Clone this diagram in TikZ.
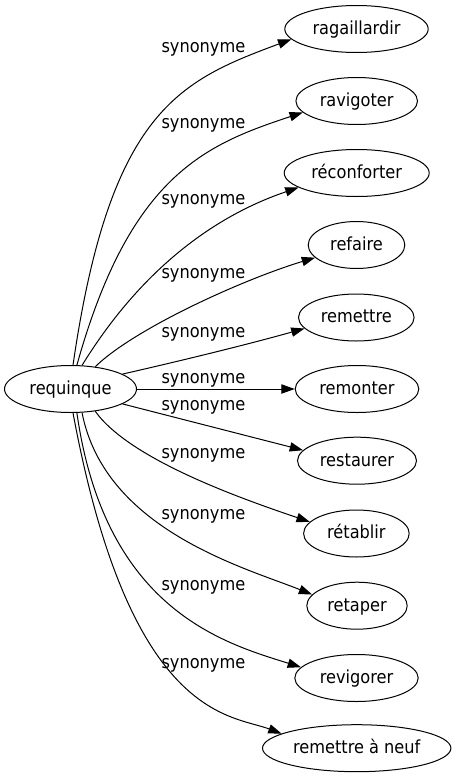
\documentclass[tikz,border=0pt]{standalone}
\usepackage{fontspec}
\setmainfont{DejaVu Sans Condensed}
\usetikzlibrary{shapes.geometric,arrows.meta}
\begin{document}
\begin{tikzpicture}[x=1pt,y=-1pt,
  word/.style={draw, ellipse, line width=1pt, inner sep=0pt, minimum height=47pt,
    font=\fontsize{18}{20}\selectfont, text height=14pt, text depth=3.4pt},
  edge/.style={line width=1pt, -{Triangle[length=13.3pt,width=9.3pt]}},
  lbl/.style={anchor=base west, inner sep=0pt, font=\fontsize{18}{20}\selectfont}]
\fill[white] (0,0) rectangle (457,779);
\useasboundingbox (0,0) rectangle (457,779);
\node[word, minimum width=132pt] (req) at (70.5,389) {requinque};
\node[word, minimum width=143.4pt] (rag) at (356.5,29) {ragaillardir};
\node[word, minimum width=121.6pt] (rav) at (356.7,101) {ravigoter};
\node[word, minimum width=145pt] (rec) at (356.7,173) {réconforter};
\node[word, minimum width=96.6pt] (ref) at (356.5,245) {refaire};
\node[word, minimum width=115.6pt] (remet) at (356.3,317.5) {remettre};
\node[word, minimum width=123.6pt] (remo) at (357,389) {remonter};
\node[word, minimum width=119pt] (rest) at (357,460.7) {restaurer};
\node[word, minimum width=105.6pt] (reta) at (356.4,533.5) {rétablir};
\node[word, minimum width=100.4pt] (retap) at (357,605.7) {retaper};
\node[word, minimum width=123.4pt] (revi) at (356.5,678) {revigorer};
\node[word, minimum width=188.4pt] (rmn) at (356.7,748.2) {remettre à neuf};

\draw[edge] (req.84) .. controls (110,110) and (180,80.7) .. (rag.189);
\draw[edge] (req.75) .. controls (130,175) and (205.5,144.6) .. (rav.192);
\draw[edge] (req.64) .. controls (150,255) and (230.6,210.5) .. (rec.194);
\draw[edge] (req.42) .. controls (135,328) and (245,278.7) .. (ref.197);
\draw[edge] (req.16) .. controls (182,360.5) and (246,344.9) .. (remet.192);
\draw[edge] (req.east) -- (remo.west);
\draw[edge] (req.-16) -- (rest.169);
\draw[edge] (req.-42) .. controls (130,460) and (244,499.5) .. (reta.166);
\draw[edge] (req.-64) .. controls (105,530) and (245.4,567.8) .. (retap.166);
\draw[edge] (req.-75) .. controls (105,610) and (224,643.1) .. (revi.169);
\draw[edge] (req.-84) .. controls (130,720) and (230.3,714.4) .. (rmn.169);

\node[lbl] (l1) at (161.3,52) {synonyme};
\node[lbl] (l2) at (161.3,128.2) {synonyme};
\node[lbl] (l3) at (161.3,204.9) {synonyme};
\node[lbl] (l4) at (161.3,278.2) {synonyme};
\node[lbl] (l5) at (161.3,337.2) {synonyme};
\node[lbl] (l6) at (161.3,383.2) {synonyme};
\node[lbl] (l7) at (161.3,410.9) {synonyme};
\node[lbl] (l8) at (161.3,458.2) {synonyme};
\node[lbl] (l9) at (161.3,519.9) {synonyme};
\node[lbl] (l10) at (161.3,590.9) {synonyme};
\node[lbl] (l11) at (161.3,668.2) {synonyme};
\end{tikzpicture}
\end{document}
